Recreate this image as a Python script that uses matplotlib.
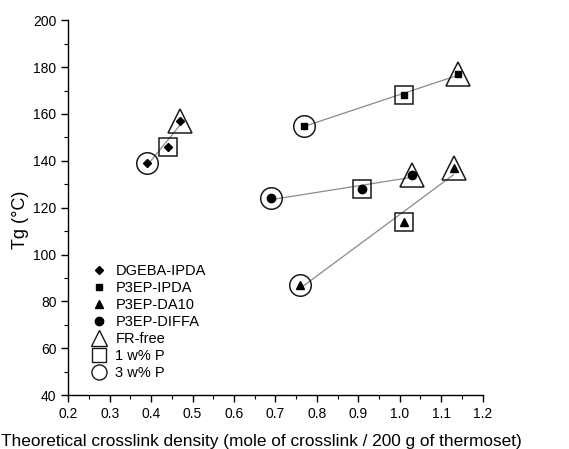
import numpy as np
import matplotlib
matplotlib.use("Agg")
import matplotlib.pyplot as plt
from matplotlib.lines import Line2D

plt.rcParams['font.family'] = ['Liberation Sans', 'DejaVu Sans']

# order of points in each system: 3 w% P, 1 w% P, FR-free
systems = ['DGEBA-IPDA', 'P3EP-IPDA', 'P3EP-DA10', 'P3EP-DIFFA']
system_markers = ['D', 's', '^', 'o']
system_sizes = [4.5, 5, 6, 6]
density = [
    [0.39, 0.44, 0.47],
    [0.77, 1.01, 1.14],
    [0.76, 1.01, 1.13],
    [0.69, 0.91, 1.03],
]
tg = [
    [139, 146, 157],
    [155, 168, 177],
    [87, 114, 137],
    [124, 128, 134],
]
levels = ['3 w% P', '1 w% P', 'FR-free']
level_markers = ['o', 's', '^']
level_sizes = [15.5, 13.5, 17]

fig = plt.figure(figsize=(5.69, 4.49), dpi=100)
ax = fig.add_axes([0.120, 0.120, 0.728, 0.835])

for i in range(len(systems)):
    x = np.array(density[i])
    y = np.array(tg[i])
    # linear fit line through each series
    k, b = np.polyfit(x, y, 1)
    xl = np.array([x.min(), x.max()])
    ax.plot(xl, k * xl + b, color='#8a8a8a', lw=0.9, zorder=1)
    for j in range(3):
        ax.plot(x[j], y[j], marker=level_markers[j], ms=level_sizes[j],
                mfc='none', mec='#1a1a1a', mew=1.1, ls='none', zorder=2)
    ax.plot(x, y, marker=system_markers[i], ms=system_sizes[i], color='black',
            ls='none', zorder=3)

ax.set_xlim(0.2, 1.2)
ax.set_ylim(40, 200)
ax.set_xticks(np.arange(0.2, 1.21, 0.1))
ax.set_xticks(np.arange(0.2, 1.21, 0.05), minor=True)
ax.set_yticks(np.arange(40, 201, 20))
ax.set_yticks(np.arange(40, 201, 10), minor=True)
ax.xaxis.set_major_formatter(matplotlib.ticker.FormatStrFormatter('%.1f'))
ax.spines['top'].set_visible(False)
ax.spines['right'].set_visible(False)
for s in ['left', 'bottom']:
    ax.spines[s].set_linewidth(1.0)
ax.tick_params(which='major', direction='out', length=5, width=1, labelsize=10, colors='black')
ax.tick_params(which='minor', direction='out', length=3, width=0.8)

ax.set_xlabel('Theoretical crosslink density (mole of crosslink / 200 g of thermoset)', fontsize=12.4)
ax.xaxis.set_label_coords(0.465, -0.103)
ax.set_ylabel('Tg (°C)', fontsize=13)
ax.yaxis.set_label_coords(-0.095, 0.467)

handles = []
for i in range(len(systems)):
    handles.append(Line2D([], [], marker=system_markers[i], ms=system_sizes[i],
                          color='black', ls='none'))
for j in [2, 1, 0]:
    handles.append(Line2D([], [], marker=level_markers[j], ms=level_sizes[j] * 0.7,
                          mfc='none', mec='#1a1a1a', mew=1.0, ls='none'))
labels = systems + [levels[2], levels[1], levels[0]]
ax.legend(handles, labels, loc='lower left', bbox_to_anchor=(0.04, 0.025),
          frameon=False, fontsize=10.5, handlelength=1.2, handletextpad=0.5,
          labelspacing=0.2, borderaxespad=0)

fig.savefig('out.png', dpi=100)
